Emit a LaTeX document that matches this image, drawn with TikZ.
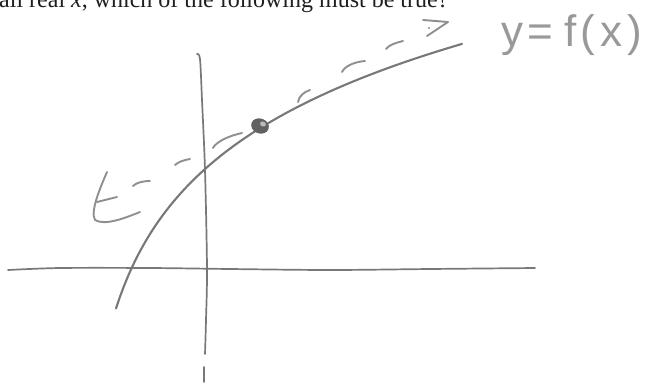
\documentclass[tikz,border=0pt]{standalone}
\usepackage{fontspec}
\setmainfont{Liberation Serif}
\newfontfamily\handfont{Liberation Sans}
\definecolor{pencil}{gray}{0.47}
\definecolor{lightpencil}{gray}{0.56}
\definecolor{handgray}{gray}{0.6}
\definecolor{dotgray}{gray}{0.38}
\definecolor{ink}{gray}{0.12}
\tikzset{
  axisline/.style={draw=pencil, line width=1.7pt, line cap=round, line join=round},
  curveline/.style={draw=pencil, line width=2.1pt, line cap=round, line join=round},
  dashstroke/.style={draw=lightpencil, line width=1.9pt, line cap=round, line join=round},
  hand/.style={text=handgray, font=\handfont\fontsize{44}{44}\selectfont, inner sep=0pt, anchor=base west},
  header/.style={text=ink, font=\fontsize{24}{24}\selectfont, inner sep=0pt, anchor=base west}
}
\begin{document}
\begin{tikzpicture}[x=1pt, y=-1pt]
\useasboundingbox (0,0) rectangle (652,383);
\fill[white] (0,0) rectangle (652,383);
\clip (0,0) rectangle (652,383);
% header text (cut at top, as in the reference)
\node[header] (head) at (-1,7.5) {all real \textit{x}, which of the following must be true?};
% vertical axis
\draw[axisline] plot[smooth] coordinates {(197,54) (200,59) (202,100) (205,170) (207,268) (206,320) (205,354)};
\draw[axisline] (204,367) -- (204,382);
% horizontal axis
\draw[axisline] plot[smooth] coordinates {(8,270) (60,268) (150,268) (230,269) (330,270) (430,269) (535,268)};
% curve y=f(x)
\draw[curveline] plot[domain=116:462, samples=90] (\x, {709.8-112*ln(\x-80)});
% point
\fill[dotgray, rotate around={-20:(260,126)}] (260,126) ellipse [x radius=9, y radius=7.5];
\fill[gray!55, rotate around={-20:(263,124)}] (263,124) ellipse [x radius=3, y radius=2.5];
% dashed tangent (hand drawn)
\draw[dashstroke] (107,172) .. controls (100,188) and (90,212) .. (95,220) .. controls (105,226) and (125,218) .. (140,212);
\draw[dashstroke] (97,202) -- (117,197);
\draw[dashstroke] (133,186) .. controls (136,183) and (142,181) .. (150,181);
\draw[dashstroke] (175,165) .. controls (178,162) and (184,160) .. (190,159);
\draw[dashstroke] (213,148) .. controls (216,142) and (228,136) .. (242,133);
\draw[dashstroke] (298,102) .. controls (299,96) and (304,92) .. (310,90);
\draw[dashstroke] (342,72) .. controls (345,66) and (354,62) .. (365,61);
\draw[dashstroke] (386,49) .. controls (389,45) and (395,43) .. (403,41);
\draw[dashstroke] (423,20) -- (448,22) -- (427,36);
\fill[lightpencil] (429,28) circle (1.2);
% label
\node[hand] (lbl) at (501,46) {y\hspace{4pt}=\hspace{12pt}f\hspace{3pt}(\hspace{6pt}x\hspace{5pt})};
\end{tikzpicture}
\end{document}
